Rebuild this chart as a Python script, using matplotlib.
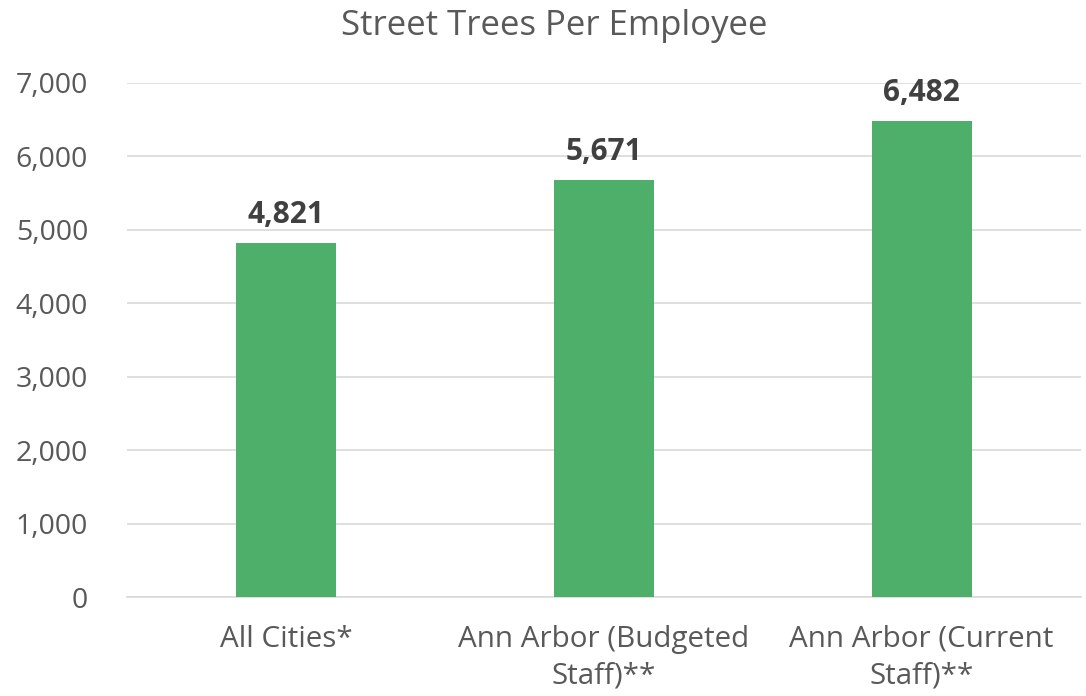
import matplotlib.pyplot as plt

categories = ["All Cities*", "Ann Arbor (Budgeted\nStaff)**", "Ann Arbor (Current\nStaff)**"]
values = [4821, 5671, 6482]
yticks = [0, 1000, 2000, 3000, 4000, 5000, 6000, 7000]

plt.rcParams["font.family"] = ["Open Sans", "DejaVu Sans"]

fig = plt.figure(figsize=(10.86, 6.96), dpi=100)
ax = fig.add_axes([0.117, 0.142, 0.878, 0.739])

x = range(len(categories))
ax.bar(x, values, width=0.315, color="#4EAF6A", zorder=3)
for xi, v in zip(x, values):
    ax.text(xi, v + 180, f"{v:,}", ha="center", va="bottom",
            fontsize=21.5, fontweight="bold", color="#404040")

ax.set_xlim(-0.5, len(categories) - 0.5)
ax.set_ylim(0, 7000)
ax.set_yticks(yticks)
ax.set_yticklabels([f"{t:,}" for t in yticks])
ax.set_xticks(list(x))
ax.set_xticklabels(categories, linespacing=1.35)
ax.tick_params(axis="both", length=0, labelcolor="#595959")
ax.tick_params(axis="y", pad=28, labelsize=20.5)
ax.tick_params(axis="x", pad=20, labelsize=21.3)
ax.grid(axis="y", color="#D9D9D9", linewidth=1.2, zorder=0)
for s in ["top", "right", "left"]:
    ax.spines[s].set_visible(False)
ax.spines["bottom"].set_color("#D9D9D9")
ax.spines["bottom"].set_linewidth(1.2)

fig.text(0.51, 0.963, "Street Trees Per Employee", ha="center", va="center",
         fontsize=25, color="#595959")

fig.savefig("out.png", dpi=100)
